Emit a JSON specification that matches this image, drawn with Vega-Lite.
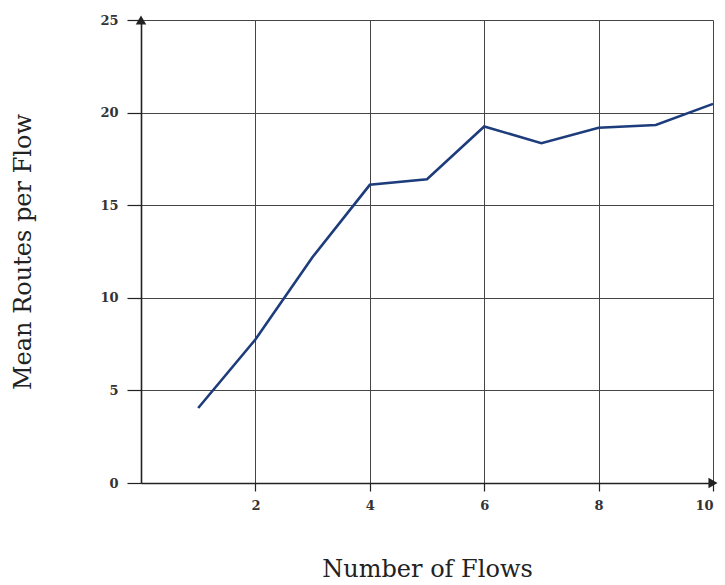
{
  "$schema": "https://vega.github.io/schema/vega-lite/v6.json",
  "width": 572,
  "height": 463,
  "autosize": {"type": "none"},
  "padding": {"left": 141, "top": 20, "right": 12, "bottom": 102},
  "background": "white",
  "config": {
    "view": {"stroke": null},
    "axis": {
      "labelFont": "DejaVu Serif",
      "labelFontWeight": "bold",
      "labelFontSize": 13,
      "labelColor": "#333",
      "titleFont": "DejaVu Serif",
      "titleFontWeight": "normal",
      "titleFontSize": 24,
      "titleColor": "#222",
      "gridColor": "#444",
      "gridWidth": 1,
      "gridOpacity": 1,
      "domainColor": "#222",
      "domainWidth": 1.6,
      "tickColor": "#222",
      "tickWidth": 1.2
    }
  },
  "datasets": {
    "routes": [
      {"flows": 1, "mean_routes": 4.05},
      {"flows": 2, "mean_routes": 7.75},
      {"flows": 3, "mean_routes": 12.2},
      {"flows": 4, "mean_routes": 16.1},
      {"flows": 5, "mean_routes": 16.4},
      {"flows": 6, "mean_routes": 19.25},
      {"flows": 7, "mean_routes": 18.35},
      {"flows": 8, "mean_routes": 19.18},
      {"flows": 9, "mean_routes": 19.33},
      {"flows": 10, "mean_routes": 20.47}
    ],
    "arrows": [
      {"flows": 0, "mean_routes": 25, "shape": "triangle-up"},
      {"flows": 10, "mean_routes": 0, "shape": "triangle-right"}
    ]
  },
  "layer": [
    {
      "data": {"name": "routes"},
      "mark": {"type": "line", "color": "#1d3c7c", "strokeWidth": 2.6},
      "encoding": {
        "x": {
          "field": "flows", "type": "quantitative",
          "scale": {"domain": [0, 10], "nice": false},
          "axis": {"values": [2, 4, 6, 8, 10], "format": "d", "title": "Number of Flows", "titlePadding": 45, "tickSize": 8, "labelPadding": 8, "grid": true}
        },
        "y": {
          "field": "mean_routes", "type": "quantitative",
          "scale": {"domain": [0, 25], "nice": false},
          "axis": {"values": [0, 5, 10, 15, 20, 25], "format": "d", "title": "Mean Routes per Flow", "titlePadding": 64, "tickSize": 14, "labelPadding": 9, "grid": true}
        }
      }
    },
    {
      "data": {"name": "arrows"},
      "mark": {"type": "point", "filled": true, "color": "#222", "size": 110, "opacity": 1},
      "encoding": {
        "x": {"field": "flows", "type": "quantitative"},
        "y": {"field": "mean_routes", "type": "quantitative"},
        "shape": {"field": "shape", "type": "nominal", "scale": null, "legend": null}
      }
    }
  ]
}
